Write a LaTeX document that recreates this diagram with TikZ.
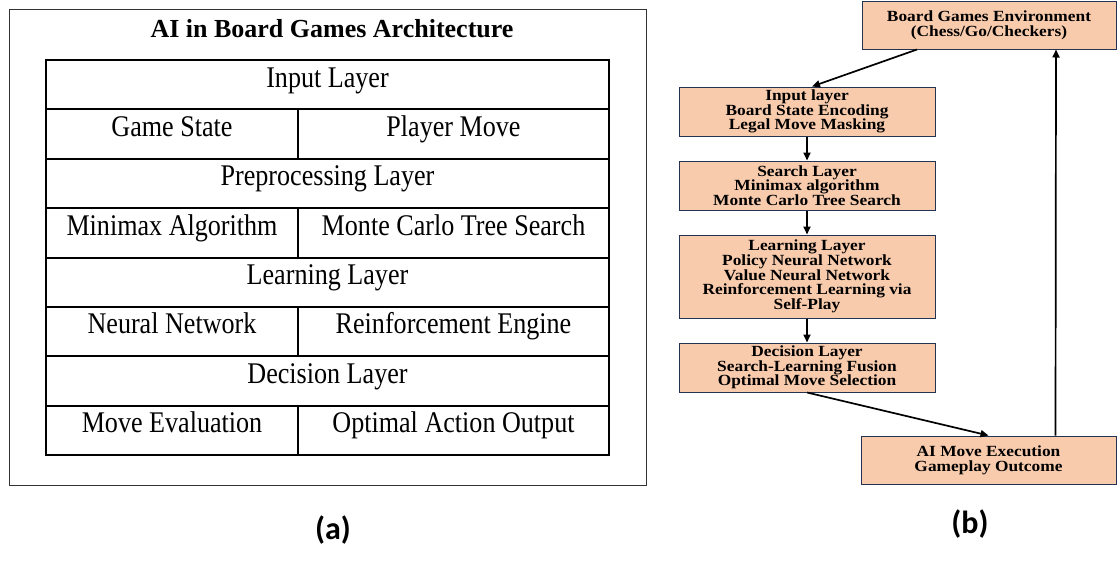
\documentclass[tikz,border=0pt]{standalone}
\usepackage{fontspec}
\setmainfont{Liberation Serif}
\newfontfamily\tabfont[FakeStretch=0.87]{Liberation Serif}
\newfontfamily\boxfont[FakeStretch=1.12]{Liberation Serif}
\newfontfamily\lblfont{Carlito}
\usetikzlibrary{arrows.meta}
\definecolor{peach}{HTML}{F8CBAD}
\definecolor{navy}{HTML}{243352}
\begin{document}
\begin{tikzpicture}[x=1pt,y=-1pt,
  tabline/.style={line width=2pt},
  tabtext/.style={anchor=base, inner sep=0pt, font=\tabfont\fontsize{30}{32}\selectfont},
  titletext/.style={anchor=base, inner sep=0pt, font=\bfseries\fontsize{26}{28}\selectfont},
  flowbox/.style={draw=navy, line width=1pt, fill=peach, minimum width=256pt, align=center, inner sep=0pt, font=\boxfont\bfseries\fontsize{15.5}{14.7}\selectfont},
  flowarrow/.style={line width=1.7pt, -{Triangle[length=8pt,width=7pt]}},
  lbl/.style={font=\lblfont\bfseries\fontsize{32}{34}\selectfont, inner sep=0pt}]
\useasboundingbox (0,0) rectangle (1117,573);
\fill[white] (0,0) rectangle (1117,573);

% ---------- panel (a) ----------
\draw[line width=1pt, black!80] (9,9) rectangle (646,485);
\node[titletext] (title) at (332,37) {AI in Board Games Architecture};

\draw[tabline] (46,60) rectangle (609,455);
\foreach \yy in {109.4,158.75,208.1,257.5,306.9,356.25,405.6}
  \draw[tabline] (46,\yy) -- (609,\yy);
\draw[tabline] (298,109.4) -- (298,158.75);
\draw[tabline] (298,208.1) -- (298,257.5);
\draw[tabline] (298,306.9) -- (298,356.25);
\draw[tabline] (298,405.6) -- (298,455);

\node[tabtext] (t1) at (327.5,87) {Input Layer};
\node[tabtext] (t2a) at (172,136.4) {Game State};
\node[tabtext] (t2b) at (453.5,136.4) {Player Move};
\node[tabtext] (t3) at (327.5,185.75) {Preprocessing Layer};
\node[tabtext] (t4a) at (172,235.1) {Minimax Algorithm};
\node[tabtext] (t4b) at (453.5,235.1) {Monte Carlo Tree Search};
\node[tabtext] (t5) at (327.5,284.5) {Learning Layer};
\node[tabtext] (t6a) at (172,333.9) {Neural Network};
\node[tabtext] (t6b) at (453.5,333.9) {Reinforcement Engine};
\node[tabtext] (t7) at (327.5,383.25) {Decision Layer};
\node[tabtext] (t8a) at (172,432.6) {Move Evaluation};
\node[tabtext] (t8b) at (453.5,432.6) {Optimal Action Output};

\node[lbl] (la) at (333,530) {(a)};

% ---------- panel (b) ----------
\node[flowbox, minimum width=254pt, minimum height=48pt] (env) at (989,25)
  {Board Games Environment\\(Chess/Go/Checkers)};
\node[flowbox, minimum height=49pt] (inp) at (807,111.5)
  {Input layer\\Board State Encoding\\Legal Move Masking};
\node[flowbox, minimum height=49pt] (srch) at (807,185.5)
  {Search Layer\\Minimax algorithm\\Monte Carlo Tree Search};
\node[flowbox, minimum height=83pt] (lrn) at (807,276.5)
  {Learning Layer\\Policy Neural Network\\Value Neural Network\\Reinforcement Learning via\\Self-Play};
\node[flowbox, minimum height=49pt] (dec) at (807,367.5)
  {Decision Layer\\Search-Learning Fusion\\Optimal Move Selection};
\node[flowbox, minimum width=255pt, minimum height=48pt] (ai) at (988.5,460)
  {AI Move Execution\\Gameplay Outcome};

\draw[flowarrow] ([xshift=-72pt]env.south) -- ([xshift=5pt]inp.north);
\draw[flowarrow] (inp.south) -- (srch.north);
\draw[flowarrow] (srch.south) -- (lrn.north);
\draw[flowarrow] (lrn.south) -- (dec.north);
\draw[flowarrow] (dec.south) -- (ai.north);
\draw[flowarrow] ([xshift=67pt]ai.north) -- ([xshift=67pt]env.south);

\node[lbl] (lb) at (970,524) {(b)};
\end{tikzpicture}
\end{document}
